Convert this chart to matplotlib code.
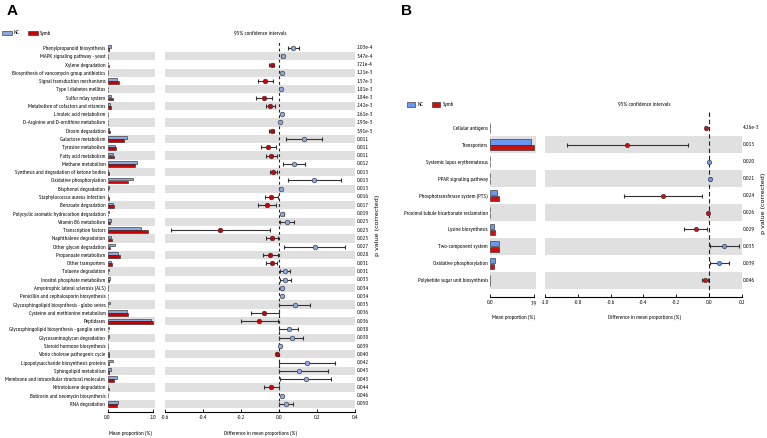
import matplotlib
matplotlib.use('Agg')
import matplotlib.pyplot as plt
from matplotlib import font_manager
from matplotlib.patches import Rectangle
import matplotlib.transforms as mtransforms
import numpy as np

# ---------------- data: panel A ----------------
a_labels = [
    "Phenylpropanoid biosynthesis", "MAPK signaling pathway - yeast", "Xylene degradation",
    "Biosynthesis of vancomycin group antibiotics", "Signal transduction mechanisms",
    "Type I diabetes mellitus", "Sulfur relay system", "Metabolism of cofactors and vitamins",
    "Linoleic acid metabolism", "D-Arginine and D-ornithine metabolism", "Dioxin degradation",
    "Galactose metabolism", "Tyrosine metabolism", "Fatty acid metabolism", "Methane metabolism",
    "Synthesis and degradation of ketone bodies", "Oxidative phosphorylation",
    "Bisphenol degradation", "Staphylococcus aureus infection", "Benzoate degradation",
    "Polycyclic aromatic hydrocarbon degradation", "Vitamin B6 metabolism",
    "Transcription factors", "Naphthalene degradation", "Other glycan degradation",
    "Propanoate metabolism", "Other transporters", "Toluene degradation",
    "Inositol phosphate metabolism", "Amyotrophic lateral sclerosis (ALS)",
    "Penicillin and cephalosporin biosynthesis", "Glycosphingolipid biosynthesis - globo series",
    "Cysteine and methionine metabolism", "Peptidases",
    "Glycosphingolipid biosynthesis - ganglio series", "Glycosaminoglycan degradation",
    "Steroid hormone biosynthesis", "Vibrio cholerae pathogenic cycle",
    "Lipopolysaccharide biosynthesis proteins", "Sphingolipid metabolism",
    "Membrane and intracellular structural molecules", "Nitrotoluene degradation",
    "Butirosin and neomycin biosynthesis", "RNA degradation",
]
a_nc = [0.15, 0.03, 0.03, 0.04, 0.42, 0.04, 0.16, 0.12, 0.04, 0.02, 0.05,
        0.85, 0.32, 0.23, 1.31, 0.04, 1.11, 0.05, 0.04, 0.22, 0.06, 0.14,
        1.46, 0.14, 0.32, 0.48, 0.17, 0.07, 0.11, 0.02, 0.02, 0.12,
        0.84, 1.91, 0.07, 0.08, 0.01, 0.05, 0.22, 0.16, 0.42, 0.01, 0.03, 0.44]
a_symb = [0.07, 0.01, 0.07, 0.02, 0.50, 0.02, 0.24, 0.17, 0.02, 0.01, 0.09,
          0.72, 0.38, 0.27, 1.23, 0.07, 0.92, 0.04, 0.08, 0.28, 0.04, 0.10,
          1.77, 0.18, 0.13, 0.53, 0.21, 0.04, 0.08, 0.01, 0.01, 0.03,
          0.92, 2.01, 0.02, 0.02, 0.003, 0.06, 0.07, 0.06, 0.28, 0.05, 0.02, 0.40]
a_diff = [0.075, 0.019, -0.039, 0.014, -0.074, 0.012, -0.081, -0.047, 0.014, 0.007, -0.037,
          0.132, -0.056, -0.042, 0.077, -0.030, 0.186, 0.012, -0.042, -0.061, 0.016, 0.044,
          -0.309, -0.039, 0.189, -0.046, -0.039, 0.032, 0.033, 0.014, 0.014, 0.086,
          -0.079, -0.103, 0.053, 0.067, 0.007, -0.011, 0.149, 0.105, 0.142, -0.040, 0.014, 0.037]
a_lo = [0.046, 0.013, -0.051, 0.009, -0.112, 0.007, -0.121, -0.070, 0.009, 0.003, -0.051,
        0.037, -0.095, -0.070, 0.023, -0.049, 0.049, 0.007, -0.072, -0.109, 0.009, 0.007,
        -0.568, -0.070, 0.028, -0.084, -0.068, 0.004, 0.004, 0.008, 0.009, 0.002,
        -0.149, -0.198, 0.002, 0.002, 0.003, -0.016, 0.002, -0.002, 0.005, -0.079, 0.009, -0.002]
a_hi = [0.105, 0.025, -0.025, 0.019, -0.033, 0.017, -0.037, -0.023, 0.019, 0.011, -0.025,
        0.226, -0.017, -0.012, 0.135, -0.009, 0.326, 0.017, -0.007, -0.014, 0.024, 0.077,
        -0.047, -0.007, 0.349, -0.007, -0.010, 0.060, 0.063, 0.020, 0.019, 0.165,
        -0.001, -0.007, 0.100, 0.128, 0.011, -0.006, 0.293, 0.256, 0.274, -0.001, 0.019, 0.075]
a_p = ["2.03e-4", "3.47e-4", "7.21e-4", "1.21e-3", "1.57e-3", "1.81e-3", "1.84e-3", "2.42e-3",
       "2.61e-3", "2.93e-3", "3.91e-3", "0.011", "0.011", "0.011", "0.012", "0.013", "0.013",
       "0.013", "0.016", "0.017", "0.019", "0.023", "0.023", "0.025", "0.027", "0.028", "0.031",
       "0.031", "0.033", "0.034", "0.034", "0.035", "0.036", "0.036", "0.038", "0.038", "0.039",
       "0.040", "0.042", "0.043", "0.043", "0.044", "0.046", "0.050"]

# ---------------- data: panel B ----------------
b_labels = ["Cellular antigens", "Transporters", "Systemic lupus erythematosus",
            "PPAR signaling pathway", "Phosphotransferase system (PTS)",
            "Proximal tubule bicarbonate reclamation", "Lysine biosynthesis",
            "Two-component system", "Oxidative phosphorylation",
            "Polyketide sugar unit biosynthesis"]
b_nc = [0.01, 7.40, 0.02, 0.03, 1.33, 0.02, 0.78, 1.62, 0.86, 0.04]
b_symb = [0.03, 7.90, 0.02, 0.02, 1.61, 0.03, 0.86, 1.53, 0.80, 0.07]
b_diff = [-0.018, -0.498, 0.001, 0.008, -0.281, -0.008, -0.079, 0.094, 0.061, -0.026]
b_lo = [-0.024, -0.868, -0.001, 0.004, -0.519, -0.012, -0.151, 0.006, 0.006, -0.045]
b_hi = [-0.012, -0.126, 0.003, 0.012, -0.043, -0.004, -0.010, 0.185, 0.120, -0.004]
b_p = ["4.26e-3", "0.013", "0.020", "0.021", "0.024", "0.026", "0.029", "0.035", "0.039", "0.046"]

# ---------------- fonts: pick an installed narrow sans ----------------
_names = {f.name for f in font_manager.fontManager.ttflist}
_pref = ['Arial Narrow', 'Liberation Sans Narrow', 'PT Sans Narrow', 'Roboto Condensed',
         'Archivo Narrow', 'Open Sans Condensed', 'Asap Condensed', 'Barlow Semi Condensed']
NARROW = next((p for p in _pref if p in _names), 'DejaVu Sans')
plt.rcParams['font.family'] = [NARROW, 'DejaVu Sans']
plt.rcParams['axes.unicode_minus'] = False

W, H = 767, 438
fig = plt.figure(figsize=(W / 100, H / 100), dpi=100)

# scale text so the widest label spans what it spans in the reference (~102 px)
_r = fig.canvas.get_renderer()
_w = 0
for _s in a_labels:
    _t = fig.text(0, 0, _s, fontsize=5)
    _w = max(_w, _t.get_window_extent(_r).width)
    _t.remove()
FS = min(5.2, 5 * 102.0 / _w)


def rect(x0, y0, x1, y1):
    return [x0 / W, 1 - y1 / H, (x1 - x0) / W, (y1 - y0) / H]


def ftext(x, y, s, **kw):
    fig.text(x / W, 1 - y / H, s, **kw)


BAND = '#E0E0E0'


def panel(labels, nc, sy, diff, lo, hi, pv, bar_box, ci_box, ylim, bar_xlim, bar_ticks,
          ci_xlim, ci_ticks, blue, red, ms, dash, pad_p):
    n = len(labels)
    y = np.arange(n)
    axb = fig.add_axes(rect(*bar_box))
    axc = fig.add_axes(rect(*ci_box))
    for ax in (axb, axc):
        for i in range(1, n, 2):
            ax.axhspan(i - 0.5, i + 0.5, color=BAND, lw=0, zorder=0)
        ax.set_ylim(*ylim)
        for s in ('left', 'right', 'top'):
            ax.spines[s].set_visible(False)
        ax.spines['bottom'].set_linewidth(0.8)
        ax.tick_params(axis='x', direction='in', length=2.5, width=0.6, pad=2.5, labelsize=FS)
        ax.set_facecolor('none')
    h = 0.3
    axb.barh(y - 0.17, nc, height=h, color=blue, edgecolor='#222222', lw=0.4, zorder=2)
    axb.barh(y + 0.17, sy, height=h, color=red, edgecolor='#222222', lw=0.4, zorder=2)
    axb.set_xlim(*bar_xlim)
    axb.set_xticks(bar_ticks)
    axb.set_xticklabels(['%.1f' % t for t in bar_ticks])
    axb.spines['bottom'].set_bounds(bar_ticks[0], bar_ticks[-1])
    axb.set_yticks(y)
    axb.set_yticklabels(labels, fontsize=FS)
    axb.tick_params(axis='y', length=0, pad=1.5)
    axc.set_xlim(*ci_xlim)
    axc.set_xticks(ci_ticks)
    axc.set_xticklabels(['%.1f' % t for t in ci_ticks])
    axc.set_yticks([])
    axc.axvline(0, color='#222222', lw=0.8, ls=dash, zorder=1.5)
    d = np.array(diff)
    l = np.array(lo)
    u = np.array(hi)
    axc.errorbar(d, y, xerr=[d - l, u - d], fmt='none', ecolor='#333333', elinewidth=0.8,
                 capsize=1.6, capthick=0.8, zorder=3)
    for i in range(n):
        col = blue if d[i] >= 0 else red
        axc.plot(d[i], y[i], 'o', color=col, mec='#333333', mew=0.4, ms=ms, zorder=4)
    tr = mtransforms.blended_transform_factory(axc.transAxes, axc.transData)
    for i in range(n):
        axc.text(1 + pad_p, y[i], pv[i], transform=tr, fontsize=FS, va='center', ha='left')
    return axb, axc


# Panel A
panel(a_labels, a_nc, a_symb, a_diff, a_lo, a_hi, a_p,
      (107.5, 40.5, 155.3, 412), (165, 40.5, 355, 412), (43.97, -0.9),
      (0, 2.1), [0.0, 2.0], (-0.6, 0.4), [-0.6, -0.4, -0.2, 0.0, 0.2, 0.4],
      '#8DA9DA', '#CC0000', 3.4, (0, (2.5, 2.5)), 0.008)
# Panel B
panel(b_labels, b_nc, b_symb, b_diff, b_lo, b_hi, b_p,
      (490, 111.6, 535.7, 296.7), (545, 111.6, 741.7, 296.7), (9.98, -0.97),
      (0, 8.2), [0.0, 7.9], (-1.0, 0.2), [-1.0, -0.8, -0.6, -0.4, -0.2, 0.0, 0.2],
      '#6A98EE', '#CC1111', 3.2, (0, (4, 2.5)), 0.006)

ftext(130, 433, 'Mean proportion (%)', fontsize=FS, ha='center', va='center')
ftext(260, 433, 'Difference in mean proportions (%)', fontsize=FS, ha='center', va='center')
ftext(260, 33, '95% confidence intervals', fontsize=FS, ha='center', va='center')
ftext(513, 317, 'Mean proportion (%)', fontsize=FS, ha='center', va='center')
ftext(644, 317, 'Difference in mean proportions (%)', fontsize=FS, ha='center', va='center')
ftext(644, 104, '95% confidence intervals', fontsize=FS, ha='center', va='center')
ftext(378, 225, 'p value (corrected)', fontsize=4.6, ha='center', va='center', rotation=90,
      family='DejaVu Sans')
ftext(763, 203, 'p value (corrected)', fontsize=4.6, ha='center', va='center', rotation=90,
      family='DejaVu Sans')
ftext(7, 11, 'A', fontsize=11, fontweight='bold', ha='left', va='center',
      family=['Liberation Sans', 'DejaVu Sans'])
ftext(401, 11, 'B', fontsize=11, fontweight='bold', ha='left', va='center',
      family=['Liberation Sans', 'DejaVu Sans'])


def legend(x, y, w, hgt, gap_txt, x2, blue, red):
    for xx, col, lab in ((x, blue, 'NC'), (x2, red, 'Symb')):
        fig.patches.append(Rectangle((xx / W, 1 - (y + hgt / 2) / H), w / W, hgt / H,
                                     transform=fig.transFigure, facecolor=col,
                                     edgecolor='#222222', lw=0.4))
        ftext(xx + w + gap_txt, y, lab, fontsize=FS, ha='left', va='center')


legend(2, 33, 10, 4, 2, 28, '#8DA9DA', '#CC0000')
legend(407, 104.5, 8, 5, 2.5, 432, '#6A98EE', '#CC1111')

fig.savefig('out.png', dpi=100)
